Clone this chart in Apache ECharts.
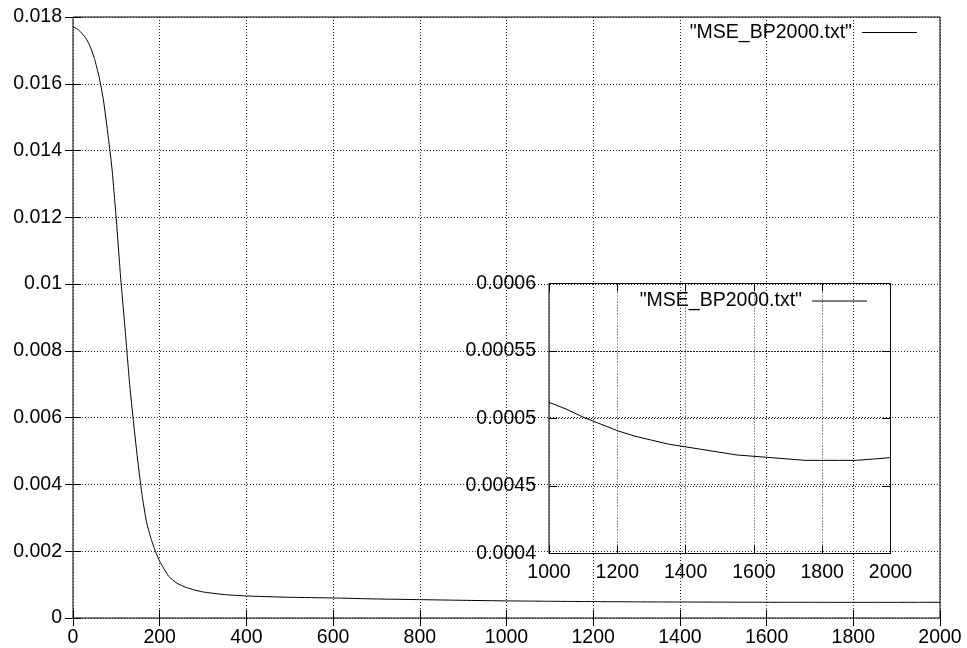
<!DOCTYPE html>
<html>
<head>
<meta charset="utf-8">
<script src="https://cdn.jsdelivr.net/npm/echarts@6/dist/echarts.min.js"></script>
<style>html,body{margin:0;padding:0;background:#fff;}#c{width:967px;height:648px;}</style>
</head>
<body>
<div id="c"></div>
<script>
// ---- data ----
const seriesName = '"MSE_BP2000.txt"';
const epochs = [0,10,20,30,40,50,60,70,80,90,100,110,120,130,140,150,160,170,180,190,200,220,240,260,280,300,350,400,500,600,700,800,900,1000,1050,1100,1150,1200,1250,1300,1350,1400,1450,1500,1550,1600,1650,1700,1750,1800,1850,1900,1950,2000];
const mse = [0.01771,0.01764,0.01752,0.01736,0.01711,0.01673,0.01622,0.01553,0.01455,0.01345,0.01192,0.01018,0.00868,0.00710,0.00581,0.00464,0.00362,0.00285,0.00238,0.00200,0.00170,0.00126,0.00104,0.00092,0.00084,0.00078,0.00070,0.00066,0.00062,0.00060,0.00057,0.00055,0.00053,0.000512,0.000507,0.000501,0.000496,0.000491,0.000487,0.000484,0.000481,0.000479,0.000477,0.000475,0.000473,0.000472,0.000471,0.000470,0.000469,0.000469,0.000469,0.000469,0.000470,0.000471];
const mainXTicks = {min:0, max:2000, interval:200};
const mainYTicks = {min:0, max:0.018, interval:0.002};
const insetXTicks = {min:1000, max:2000, interval:200};
const insetYTicks = {min:0.0004, max:0.0006, interval:0.00005};

const mainPts = epochs.map((x,i)=>[x, mse[i]]);
const insetPts = mainPts.filter(p => p[0] >= insetXTicks.min);

const FONT = 'Liberation Sans, Arial, Helvetica, sans-serif';
const FS = 19.5;
const fmt = v => String(parseFloat(Number(v).toPrecision(6)));
const dotted = {show:true, lineStyle:{color:'#222', width:1, type:[1,2]}};
const tick = {show:true, inside:true, length:8, lineStyle:{color:'#000', width:1}};
const lbl = (m) => ({show:true, color:'#000', fontFamily:FONT, fontSize:FS, margin:m, formatter:fmt});

function ax(grid, t, m, pos, labels, split){
  return {type:'value', gridIndex:grid, position:pos, min:t.min, max:t.max, interval:t.interval,
    axisLine:{show:false}, axisTick:tick, axisLabel: labels ? lbl(m) : {show:false},
    splitLine: split ? dotted : {show:false}};
}
const legendStyle = {align:'right', icon:'rect', itemWidth:55, itemHeight:1, itemGap:0, selectedMode:false,
  itemStyle:{color:'#000'}, textStyle:{color:'#000', fontFamily:FONT, fontSize:FS, padding:[0,5,0,0]}};
const chart = echarts.init(document.getElementById('c'), null, {renderer:'canvas'});
chart.setOption({
  backgroundColor:'#fff',
  animation:false,
  grid:[
    {left:73, top:17, right:27, bottom:27.5, show:true, borderColor:'#000', borderWidth:1, backgroundColor:'transparent'},
    {left:549, top:283.5, width:341.5, height:270, show:true, borderColor:'#000', borderWidth:1, backgroundColor:'transparent'}
  ],
  xAxis:[
    ax(0, mainXTicks, 10, 'bottom', true, true),
    ax(0, mainXTicks, 10, 'top', false, false),
    ax(1, insetXTicks, 9, 'bottom', true, true),
    ax(1, insetXTicks, 9, 'top', false, false)
  ],
  yAxis:[
    ax(0, mainYTicks, 11, 'left', true, true),
    ax(0, mainYTicks, 11, 'right', false, false),
    ax(1, insetYTicks, 13, 'left', true, true),
    ax(1, insetYTicks, 13, 'right', false, false)
  ],
  legend:[
    Object.assign({data:[seriesName], right:45, top:17.5}, legendStyle),
    Object.assign({data:[seriesName], right:95, top:286}, legendStyle)
  ],
  series:[
    {name:seriesName, type:'line', xAxisIndex:0, yAxisIndex:0, data:mainPts, symbol:'none', showSymbol:false,
     smooth:0.15, lineStyle:{color:'#000', width:1}, itemStyle:{color:'#000'}, clip:true},
    {name:seriesName, type:'line', xAxisIndex:2, yAxisIndex:2, data:insetPts, symbol:'none', showSymbol:false,
     lineStyle:{color:'#000', width:1}, itemStyle:{color:'#000'}, clip:true}
  ]
});
</script>
</body>
</html>
